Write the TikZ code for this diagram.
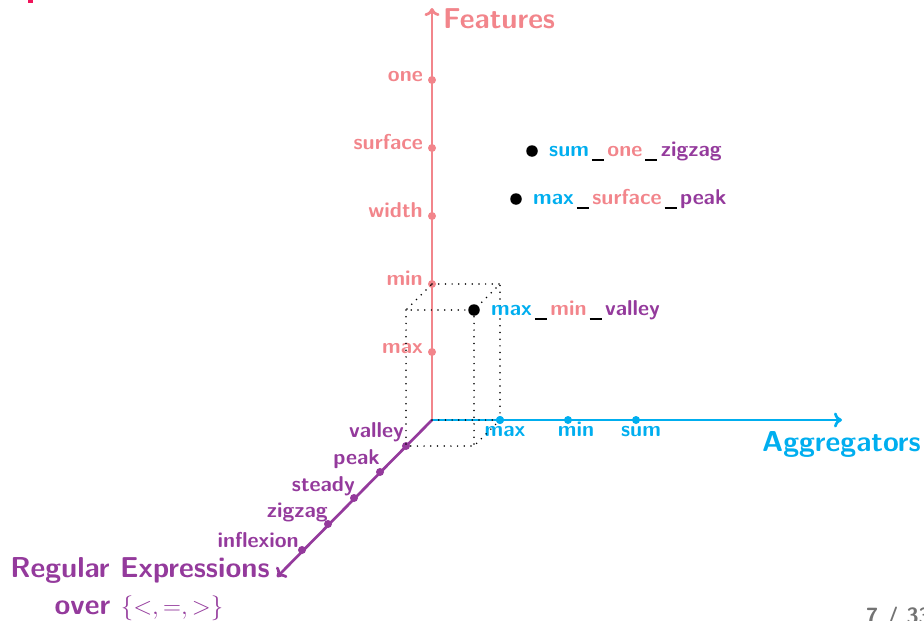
\documentclass[tikz,border=0pt]{standalone}
\usetikzlibrary{arrows.meta}
\definecolor{featc}{HTML}{F2858B}
\definecolor{aggc}{HTML}{00AEEF}
\definecolor{rexc}{HTML}{943A9C}
\definecolor{titlec}{HTML}{F0145A}
\definecolor{pagec}{HTML}{737373}
% separator drawn between the parts of a combination name
\newcommand{\sepbar}{\kern3pt\rule[-5pt]{12pt}{1.6pt}\kern3.5pt}
\begin{document}
\begin{tikzpicture}[x=1pt,y=-1pt,
  axis/.style={line width=2.7pt, -{To[length=8pt,width=15pt]}},
  tick/.style={circle, fill, inner sep=0pt, minimum size=8pt},
  pnt/.style={circle, fill=black, inner sep=0pt, minimum size=11.5pt},
  ticklbl/.style={font=\sffamily\bfseries\fontsize{21.5}{24}\selectfont, inner sep=0pt},
  axtitle/.style={font=\sffamily\bfseries\fontsize{28.8}{32}\selectfont, inner sep=0pt},
  boxedge/.style={line width=1.7pt, dash pattern=on 0pt off 6.7pt, line cap=round}]
\useasboundingbox (0,0) rectangle (924,621);
\clip (0,0) rectangle (924,621);

% remnant of the frame title and page counter
\fill[titlec] (28,-1) rectangle (33,2.5);
\node[font=\sffamily\bfseries\fontsize{22}{24}\selectfont, text=pagec, anchor=base west, inner sep=0pt] (page) at (866,623.5) {7 / 33};

% origin and axes
\coordinate (O) at (432,420);
\coordinate (ftip) at (432,8);
\coordinate (atip) at (842,420);
\coordinate (rtip) at (277,577);
\draw[axis, featc] (O) -- (ftip);
\draw[axis, aggc] (O) -- (atip);
\draw[axis, rexc] (O) -- (rtip);

% axis titles
\node[axtitle, text=featc, anchor=base west] (ftitle) at (443,28) {Features};
\node[axtitle, text=aggc, anchor=base west] (atitle) at (762,451) {Aggregators};
\node[axtitle, text=rexc, anchor=base] (rtitle) at (140,577) {Regular Expressions};
\node[axtitle, text=rexc, anchor=base] (rtitle2) at (139,614) {over $\{<,=,>\}$};

% feature ticks
\foreach \n/\lbl/\y in {f1/max/352, f2/min/284, f3/width/216, f4/surface/148, f5/one/80}{
  \node[tick, featc] (\n) at (432,\y) {};
  \node[ticklbl, text=featc, anchor=base east] at (423,\y+1) {\lbl};
}

% aggregator ticks
\foreach \n/\lbl/\x/\lx in {a1/max/500/505, a2/min/568/576, a3/sum/636/641}{
  \node[tick, aggc] (\n) at (\x,420) {};
  \node[ticklbl, text=aggc, anchor=base] at (\lx,436) {\lbl};
}

% regular-expression ticks
\foreach \n/\lbl/\x/\y/\lx/\ly in {r1/valley/406/446/404/437, r2/peak/380/472/380/464, r3/steady/354/498/355/491, r4/zigzag/328/524/328/517, r5/inflexion/302/550/299/547}{
  \node[tick, rexc] (\n) at (\x,\y) {};
  \node[ticklbl, text=rexc, anchor=base east] at (\lx,\ly) {\lbl};
}

% box spanned by max / min / valley
\coordinate (P) at (474,310);
\coordinate (Tb) at (500,284);
\coordinate (Tf) at (406,310);
\coordinate (Bf) at (474,446);
\draw[boxedge] (f2.center) -- (Tb) -- (P) -- (Tf) -- (f2.center);
\draw[boxedge] (Tf) -- (r1.center) -- (Bf) -- (a1.center) -- (Tb);
\draw[boxedge] (P) -- (Bf);
\draw[boxedge] (O) -- (a1.center);
\node[tick, aggc] at (a1) {};

% combinations
\node[pnt] (p1) at (P) {};
\node[ticklbl, anchor=base west] (p1l) at (491,315) {\textcolor{aggc}{max}\sepbar\textcolor{featc}{min}\sepbar\textcolor{rexc}{valley}};
\node[pnt] (p2) at (516,199) {};
\node[ticklbl, anchor=base west] (p2l) at (533,204) {\textcolor{aggc}{max}\sepbar\textcolor{featc}{surface}\sepbar\textcolor{rexc}{peak}};
\node[pnt] (p3) at (532,151) {};
\node[ticklbl, anchor=base west] (p3l) at (549,156) {\textcolor{aggc}{sum}\sepbar\textcolor{featc}{one}\sepbar\textcolor{rexc}{zigzag}};
\end{tikzpicture}
\end{document}
